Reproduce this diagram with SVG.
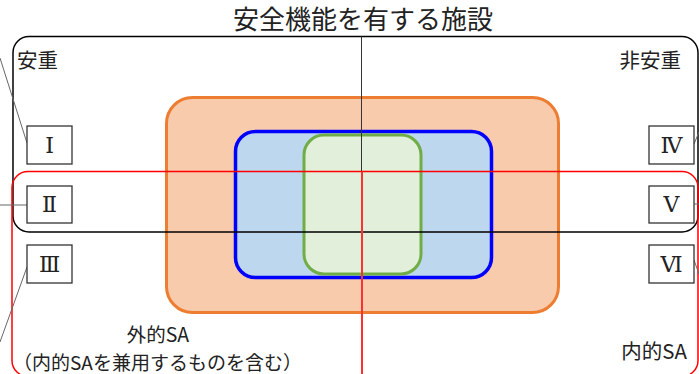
<svg xmlns="http://www.w3.org/2000/svg" width="699" height="374" viewBox="0 0 699 374">
<style>
.t{font-family:"Noto Sans CJK JP","Noto Sans",sans-serif;fill:#222}
.rn{font-family:"DejaVu Serif","Noto Sans CJK JP",serif;font-size:22px;fill:#222;text-anchor:middle}
.box{fill:#fff;stroke:#333;stroke-width:1.3}
.lead{stroke:#666;stroke-width:1;fill:none}
</style>
<rect width="699" height="374" fill="#fff"/>
<g id="title"><text class="t" x="363" y="29" font-size="26" text-anchor="middle">安全機能を有する施設</text></g>
<g id="outer-sa"><rect x="166.5" y="97.5" width="392" height="215" rx="26" fill="#F8CBAD" stroke="#ED7D31" stroke-width="3"/></g>
<g id="blue"><rect x="235.5" y="131.5" width="256" height="146" rx="20" fill="#BDD7EE" stroke="#0000FF" stroke-width="3.5"/></g>
<g id="green"><rect x="304" y="135" width="117" height="139" rx="20" fill="#E2EFDA" stroke="#70AD47" stroke-width="3"/></g>
<g id="anju"><rect x="13" y="36.5" width="685" height="195.5" rx="16" fill="none" stroke="#000" stroke-width="1.5"/>
<line x1="361.5" y1="36.5" x2="361.5" y2="232" stroke="#333" stroke-width="1"/></g>
<g id="naiteki"><rect x="12" y="171.5" width="686" height="205" rx="16" fill="none" stroke="#FF0000" stroke-width="1.5"/>
<line x1="362" y1="171.5" x2="362" y2="374" stroke="#FF3030" stroke-width="2"/></g>
<g id="labels">
<text class="t" x="17" y="68" font-size="20.5">安重</text>
<text class="t" x="681" y="68" font-size="20.5" text-anchor="end">非安重</text>
<text class="t" x="158" y="342" font-size="19.5" text-anchor="middle">外的SA</text>
<text class="t" x="157.5" y="370" font-size="19" text-anchor="middle">（内的SAを兼用するものを含む）</text>
<text class="t" x="687" y="359" font-size="20.5" text-anchor="end">内的SA</text>
</g>
<g id="connectors">
<line class="lead" x1="0" y1="58" x2="27" y2="143"/>
<line class="lead" x1="0" y1="205" x2="27" y2="205"/>
<line class="lead" x1="27" y1="267" x2="0" y2="342"/>
<line class="lead" x1="694" y1="144" x2="699" y2="132"/>
<line class="lead" x1="694" y1="204" x2="699" y2="204"/>
<line class="lead" x1="694" y1="260" x2="699" y2="274"/>
</g>
<g id="n1"><rect class="box" x="27" y="126" width="45" height="38"/><text class="rn" x="49.5" y="153">Ⅰ</text></g>
<g id="n2"><rect class="box" x="27" y="186" width="45" height="37"/><text class="rn" x="49.5" y="212">Ⅱ</text></g>
<g id="n3"><rect class="box" x="27" y="245" width="45" height="38"/><text class="rn" x="49.5" y="272">Ⅲ</text></g>
<g id="n4"><rect class="box" x="649" y="126" width="45" height="38"/><text class="rn" x="671.5" y="153">Ⅳ</text></g>
<g id="n5"><rect class="box" x="649" y="186" width="45" height="37"/><text class="rn" x="671.5" y="212">Ⅴ</text></g>
<g id="n6"><rect class="box" x="649" y="245" width="45" height="38"/><text class="rn" x="671.5" y="272">Ⅵ</text></g>
</svg>
